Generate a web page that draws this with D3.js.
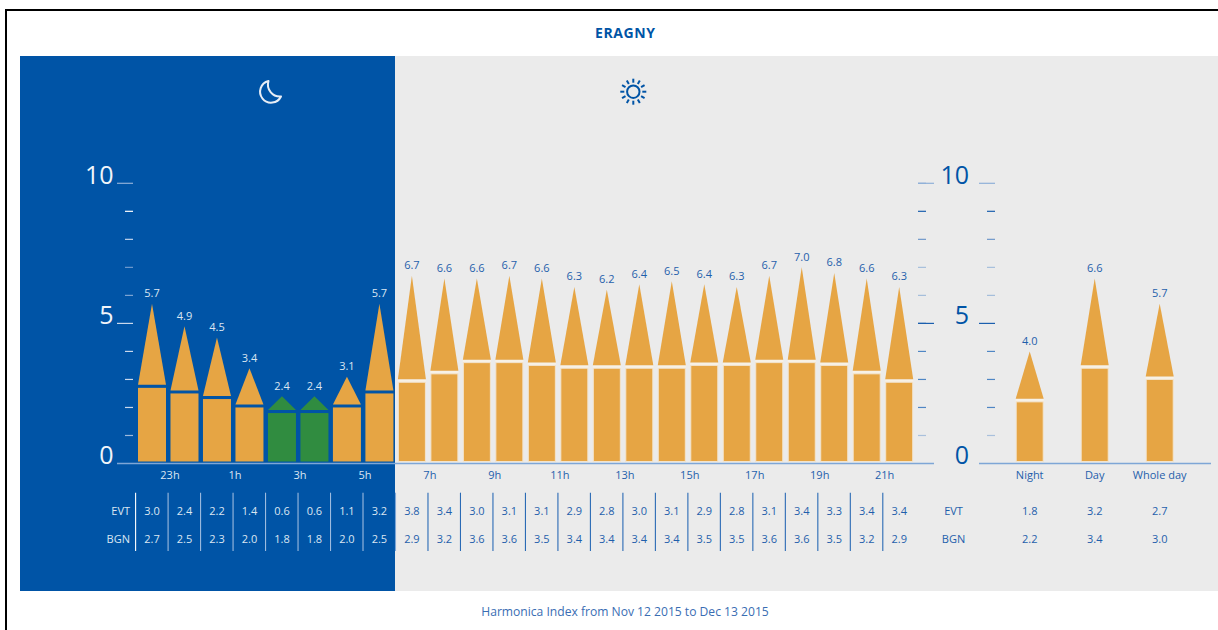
<!DOCTYPE html>
<html><head><meta charset="utf-8">
<style>html,body{margin:0;padding:0;background:#fff}svg{display:block}text{font-family:"Open Sans",sans-serif}</style>
<script src="https://cdn.jsdelivr.net/npm/d3@7"></script></head>
<body><svg id="c" width="1218" height="630"></svg>
<script>
const hours=["22h","23h","0h","1h","2h","3h","4h","5h","6h","7h","8h","9h","10h","11h","12h","13h","14h","15h","16h","17h","18h","19h","20h","21h"];
const hourLabels=["23h","1h","3h","5h","7h","9h","11h","13h","15h","17h","19h","21h"];
const harmonica=[5.7,4.9,4.5,3.4,2.4,2.4,3.1,5.7,6.7,6.6,6.6,6.7,6.6,6.3,6.2,6.4,6.5,6.4,6.3,6.7,7.0,6.8,6.6,6.3];
const evt=[3.0,2.4,2.2,1.4,0.6,0.6,1.1,3.2,3.8,3.4,3.0,3.1,3.1,2.9,2.8,3.0,3.1,2.9,2.8,3.1,3.4,3.3,3.4,3.4];
const bgn=[2.7,2.5,2.3,2.0,1.8,1.8,2.0,2.5,2.9,3.2,3.6,3.6,3.5,3.4,3.4,3.4,3.4,3.5,3.5,3.6,3.6,3.5,3.2,2.9];
const periods=["Night","Day","Whole day"];
const periodHarmonica=[4.0,6.6,5.7];
const periodEvt=[1.8,3.2,2.7];
const periodBgn=[2.2,3.4,3.0];
const majorTicks=[0,5,10];
const minorTicks=[1,2,3,4,6,7,8,9];
const nightCount=8;

const BLUE="#0054a6",GRAY="#ebebeb",ORANGE="#e6a544",GREEN="#308c40",NIGHTTXT="#dbe6f2",DAYTXT="#1f5fab";
const svg=d3.select("#c");
const y=d3.scaleLinear().domain([0,10]).range([463.5,183.3]);
const x=d3.scalePoint().domain(hours).range([152,899.2]);
const xp=d3.scalePoint().domain(periods).range([1029.7,1159.7]);
const BW=28,GAP=3,BOTTOM=461.5;

// frame and panels
svg.append("rect").attr("x",395).attr("y",56).attr("width",823).attr("height",535).attr("fill",GRAY);
svg.append("rect").attr("x",20).attr("y",56).attr("width",375).attr("height",535).attr("fill",BLUE);
svg.append("path").attr("d","M6,630V10H1218").attr("fill","none").attr("stroke","#000").attr("stroke-width",2);

svg.append("text").attr("x",625).attr("y",38).attr("text-anchor","middle").attr("font-size",14).attr("font-weight",700).attr("fill",BLUE).attr("textLength",60).text("ERAGNY");
svg.append("text").attr("x",625).attr("y",615.5).attr("text-anchor","middle").attr("font-size",12.1).attr("fill","#3a6db3").text("Harmonica Index from Nov 12 2015 to Dec 13 2015");

// icons
svg.append("path").attr("d","M268.5,81A11,11 0 1 0 281,96.5A12,12 0 0 1 268.5,81Z").attr("fill","none").attr("stroke","#e8eef6").attr("stroke-width",2).attr("stroke-linejoin","round");
const sun=svg.append("g").attr("transform","translate(633.3,91.7)").attr("stroke",BLUE).attr("fill","none");
sun.append("circle").attr("r",6.2).attr("stroke-width",2);
d3.range(12).forEach(i=>{const a=i*Math.PI/6;
  sun.append("line").attr("x1",9*Math.cos(a)).attr("y1",9*Math.sin(a)).attr("x2",13*Math.cos(a)).attr("y2",13*Math.sin(a)).attr("stroke-width",2);});

// axes
function axis(xMajor,xMinor,xEnd,colorFn){
  const g=svg.append("g");
  g.selectAll("line.maj").data(majorTicks.filter(d=>d>0)).join("line").attr("x1",xMajor).attr("x2",xEnd).attr("y1",d=>y(d)).attr("y2",d=>y(d)).attr("stroke",d=>colorFn(d)).attr("stroke-width",1.2);
  g.selectAll("line.min").data(minorTicks).join("line").attr("x1",xMinor).attr("x2",xEnd).attr("y1",d=>y(d)).attr("y2",d=>y(d)).attr("stroke",d=>colorFn(d)).attr("stroke-width",1.2);
}
const nightTick=d=>d===10?"#8fb0d8":d===9?"#ffffff":d===8?"#c3d4ea":d===7?"#6f9bce":d===6?"#7ba3d2":d===1?"#9dbadd":"#c9d8ec";
const dayTick=d=>d===10?"#8fb0d8":d===9?"#1b5fae":d===8?"#6f98ca":d===7?"#a5bedb":d===6?"#a5bedb":d===1?"#a9c0dc":d===5?"#1b5fae":"#4f86c4";
axis(117,125,133,nightTick);
axis(918,918,926,dayTick);
svg.append("g").selectAll("line").data(majorTicks.filter(d=>d>0)).join("line").attr("x1",918).attr("x2",934).attr("y1",d=>y(d)).attr("y2",d=>y(d)).attr("stroke",dayTick).attr("stroke-width",1.2);
axis(979,987,995,dayTick);

function tickLabels(xp0,fill){
  svg.append("g").selectAll("text").data(majorTicks).join("text").attr("x",xp0).attr("y",d=>y(d)+0.5).attr("text-anchor","end").attr("font-size",25).attr("font-weight",500).attr("fill",fill).text(d=>d);
}
tickLabels(113.5,"#f1f5fa");
tickLabels(969,BLUE);

// baselines
[[117,395],[395,934],[979,1211]].forEach(([a,b])=>svg.append("line").attr("x1",a).attr("x2",b).attr("y1",y(0)).attr("y2",y(0)).attr("stroke","#7ea6d6").attr("stroke-width",1.5));

// bars
function drawBars(keys,scale,tops,bases,isNight){
  const rows=keys.map((k,i)=>({k,top:tops[i],base:bases[i],night:isNight(i)}));
  const col=d=>d.top<=2.4?GREEN:ORANGE;
  const line=d=>d.night?"none":"#f3e4cd";
  const g=svg.append("g");
  g.selectAll("rect.band").data(rows.filter(d=>!d.night)).join("rect").attr("x",d=>scale(d.k)-BW/2).attr("width",BW).attr("y",d=>y(d.base)-GAP).attr("height",GAP).attr("fill","#f7f1e6");
  g.selectAll("rect.col").data(rows).join("rect").attr("x",d=>scale(d.k)-BW/2+(d.night?0:.5)).attr("width",d=>d.night?BW:BW-1)
    .attr("y",d=>y(d.base)).attr("height",d=>BOTTOM-y(d.base)).attr("fill",col).attr("stroke",line);
  g.selectAll("path.spike").data(rows).join("path")
    .attr("d",d=>`M${scale(d.k)-BW/2},${y(d.base)-GAP}L${scale(d.k)},${y(d.top)}L${scale(d.k)+BW/2},${y(d.base)-GAP}Z`).attr("fill",col);
  g.selectAll("text").data(rows).join("text").attr("x",d=>scale(d.k)).attr("y",d=>y(d.top)-6.5).attr("text-anchor","middle").attr("font-size",11).attr("font-weight",500)
    .attr("fill",d=>d.night?NIGHTTXT:DAYTXT).text(d=>d.top.toFixed(1));
}
drawBars(hours,x,harmonica,bgn,i=>i<nightCount);
drawBars(periods,xp,periodHarmonica,periodBgn,()=>false);

// hour labels
svg.append("g").selectAll("text").data(hourLabels).join("text").attr("x",d=>x(d)-14.5).attr("y",479).attr("text-anchor","middle").attr("font-size",11).attr("font-weight",500)
  .attr("fill",d=>hours.indexOf(d)<nightCount?NIGHTTXT:DAYTXT).text(d=>d);
svg.append("g").selectAll("text").data(periods).join("text").attr("x",d=>xp(d)).attr("y",479).attr("text-anchor","middle").attr("font-size",11).attr("font-weight",500).attr("fill",DAYTXT).text(d=>d);

// table
const ROW1=515,ROW2=543;
function row(vals,yy,scale,keys,isNight){
  svg.append("g").selectAll("text").data(vals).join("text").attr("x",(d,i)=>scale(keys[i])).attr("y",yy).attr("text-anchor","middle").attr("font-size",11).attr("font-weight",500)
    .attr("fill",(d,i)=>isNight(i)?NIGHTTXT:DAYTXT).text(d=>d.toFixed(1));
}
row(evt,ROW1,x,hours,i=>i<nightCount);
row(bgn,ROW2,x,hours,i=>i<nightCount);
row(periodEvt,ROW1,xp,periods,()=>false);
row(periodBgn,ROW2,xp,periods,()=>false);
[["EVT",ROW1],["BGN",ROW2]].forEach(([t,yy])=>{
  svg.append("text").attr("x",130).attr("y",yy).attr("text-anchor","end").attr("font-size",11).attr("font-weight",500).attr("fill",NIGHTTXT).text(t);
  svg.append("text").attr("x",953.5).attr("y",yy).attr("text-anchor","middle").attr("font-size",11).attr("font-weight",500).attr("fill",DAYTXT).text(t);
});
svg.append("g").selectAll("line").data(hours).join("line")
  .attr("x1",d=>x(d)-16.4).attr("x2",d=>x(d)-16.4).attr("y1",492.7).attr("y2",551)
  .attr("stroke",(d,i)=>i===0?"#fff":i<nightCount?"#9dbbdf":i===8?"#7ea6d6":"#2a6ab5").attr("stroke-width",1.1);
</script></body></html>
